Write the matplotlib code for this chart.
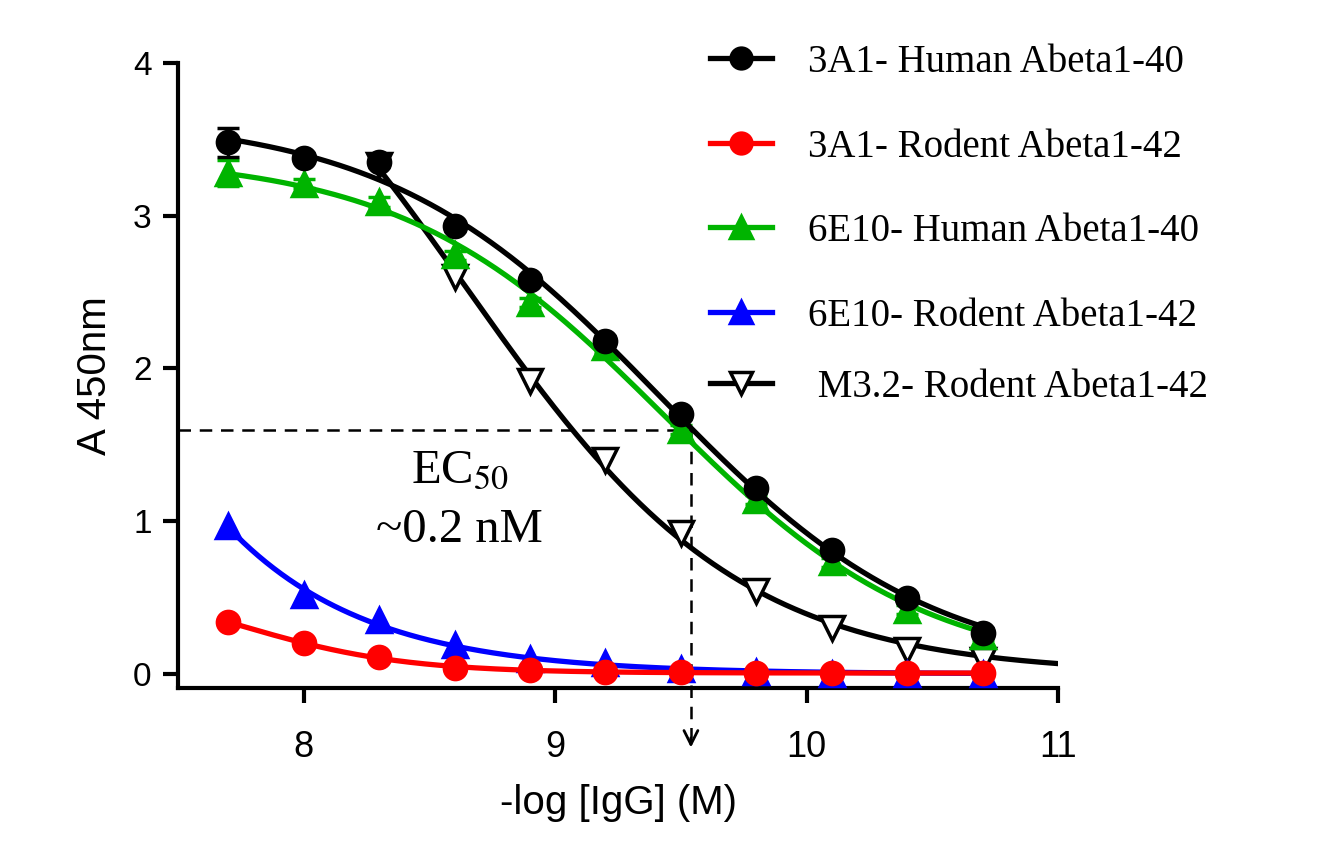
import numpy as np
import matplotlib
matplotlib.use('Agg')
import matplotlib.pyplot as plt
from matplotlib.lines import Line2D

plt.rcParams['mathtext.fontset'] = 'stix'
plt.rcParams['font.family'] = ['Liberation Sans', 'DejaVu Sans']

# -log[IgG] (M) for each dilution
log_igg = [7.7, 8.0, 8.3, 8.6, 8.9, 9.2, 9.5, 9.8, 10.1, 10.4, 10.7]
log_igg_m32 = [8.3, 8.6, 8.9, 9.2, 9.5, 9.8, 10.1, 10.4, 10.7]

# A450 readings
a450_3a1_human = [3.48, 3.38, 3.35, 2.93, 2.58, 2.18, 1.70, 1.22, 0.81, 0.50, 0.27]
a450_3a1_rodent = [0.34, 0.20, 0.11, 0.04, 0.026, 0.015, 0.013, 0.006, 0.005, 0.005, 0.005]
a450_6e10_human = [3.28, 3.21, 3.09, 2.74, 2.43, 2.14, 1.60, 1.14, 0.73, 0.42, 0.25]
a450_6e10_rodent = [0.97, 0.52, 0.35, 0.19, 0.10, 0.07, 0.03, 0.01, 0.0, 0.0, 0.0]
a450_m32_rodent = [3.33, 2.60, 1.92, 1.40, 0.92, 0.54, 0.30, 0.16, 0.09]

# SEM (mostly hidden behind the markers)
sem_3a1_human = [0.095, 0.03, 0.03, 0.03, 0.03, 0.03, 0.03, 0.03, 0.03, 0.03, 0.03]
sem_6e10_human = [0.085, 0.03, 0.03, 0.03, 0.03, 0.03, 0.03, 0.03, 0.03, 0.03, 0.03]

labels = ['3A1- Human Abeta1-40', '3A1- Rodent Abeta1-42', '6E10- Human Abeta1-40',
          '6E10- Rodent Abeta1-42', ' M3.2- Rodent Abeta1-42']
x_ticks = [8, 9, 10, 11]
y_ticks = [0, 1, 2, 3, 4]

# EC50 guide
ec50_level = 1.6
ec50_x = 9.54

W, H = 1319, 841
legend_rows_px = [58, 143, 227, 312, 383]


def fit_4pl(x, y):
    # grid search on logEC50 / hill, top and bottom by least squares (bottom >= 0)
    x = np.asarray(x, float)
    y = np.asarray(y, float)

    def search(c_grid, h_grid):
        C = c_grid[:, None, None]
        Hh = h_grid[None, :, None]
        s = 1.0 / (1.0 + 10.0 ** ((x[None, None, :] - C) * Hh))
        t = 1.0 - s
        a = (s * s).sum(-1); b = (s * t).sum(-1); c = (t * t).sum(-1)
        d1 = (s * y).sum(-1); d2 = (t * y).sum(-1)
        det = a * c - b * b
        det = np.where(np.abs(det) < 1e-12, np.nan, det)
        top = (c * d1 - b * d2) / det
        bot = (a * d2 - b * d1) / det
        neg = ~(bot >= 0)
        top = np.where(neg, d1 / a, top)
        bot = np.where(neg, 0.0, bot)
        sse = (((top[..., None] * s + bot[..., None] * t) - y) ** 2).sum(-1)
        sse = np.where(np.isfinite(sse), sse, np.inf)
        i, j = np.unravel_index(np.argmin(sse), sse.shape)
        return c_grid[i], h_grid[j], top[i, j], bot[i, j]

    c0, h0, _, _ = search(np.linspace(6.0, 12.0, 301), np.linspace(0.3, 3.0, 136))
    return search(np.linspace(c0 - 0.05, c0 + 0.05, 101),
                  np.linspace(max(0.2, h0 - 0.05), h0 + 0.05, 101))


def curve(params, xs):
    c, h, top, bot = params
    return bot + (top - bot) / (1.0 + 10.0 ** ((xs - c) * h))


fig = plt.figure(figsize=(W / 100, H / 100), dpi=100)
ax = fig.add_axes([178 / W, 1 - 688 / H, 880 / W, 625 / H])

series = [
    (log_igg, a450_3a1_human, sem_3a1_human, 'black', 'o', 'black', 10, (7.7, 10.7)),
    (log_igg, a450_3a1_rodent, None, '#ff0000', 'o', '#ff0000', 8, (7.7, 10.7)),
    (log_igg, a450_6e10_human, sem_6e10_human, '#00b400', '^', '#00b400', 9, (7.7, 10.7)),
    (log_igg, a450_6e10_rodent, None, '#0000ff', '^', '#0000ff', 7, (7.7, 10.7)),
    (log_igg_m32, a450_m32_rodent, None, 'black', 'v', 'white', 5, (8.3, 11.0)),
]

for k, (x, y, err, col, mk, fc, z, rng) in enumerate(series):
    p = fit_4pl(x, y)
    xs = np.linspace(rng[0], rng[1], 300)
    ax.plot(xs, curve(p, xs), color=col, lw=3.8, zorder=z)
    ms = 16 if mk == 'o' else 17
    ax.errorbar(x, y, yerr=err, fmt=mk, color=col, mfc=fc, mec=col, mew=2.5,
                ms=ms, ecolor=col, elinewidth=2.5, capsize=8, capthick=2.5,
                zorder=z + 0.5, clip_on=False)

    # legend row, drawn by hand so the rows sit where the original puts them
    ry = 1 - legend_rows_px[k] / H
    fig.add_artist(Line2D([710 / W, 772 / W], [ry, ry], color=col, lw=3.8))
    fig.add_artist(Line2D([741 / W], [ry], ls='none', marker=mk, ms=ms - 1,
                          mfc=fc, mec=col, mew=2.5))
    fig.text(808 / W, ry, labels[k], fontsize=28, family='Liberation Serif',
             ha='left', va='center_baseline')

# EC50 dashed guide
ax.plot([7.5, ec50_x], [ec50_level, ec50_level], color='black', lw=1.8,
        ls=(0, (5, 3.5)), zorder=3)
ax.plot([ec50_x, ec50_x], [ec50_level, -0.42], color='black', lw=1.8,
        ls=(0, (5, 3.5)), zorder=3, clip_on=False)
ax.annotate('', xy=(ec50_x, -0.5), xytext=(ec50_x, -0.40),
            arrowprops=dict(arrowstyle='->,head_length=1.0,head_width=0.5',
                            color='black', lw=2),
            annotation_clip=False)

ax.text(8.62, 1.33, 'EC$_{50}$', fontsize=35, family='Liberation Serif',
        ha='center', va='center')
ax.text(8.62, 0.94, '~0.2 nM', fontsize=35, family='Liberation Serif',
        ha='center', va='center')

ax.set_xlim(7.5, 11.0)
ax.set_ylim(-0.092, 4.0)
ax.set_xticks(x_ticks)
ax.set_yticks(y_ticks)
for s in ['top', 'right']:
    ax.spines[s].set_visible(False)
for s in ['left', 'bottom']:
    ax.spines[s].set_linewidth(3)
ax.tick_params(axis='both', direction='out', length=11, width=3)
ax.tick_params(axis='x', pad=19, labelsize=26)
ax.tick_params(axis='y', pad=8, labelsize=24)

ax.set_xlabel('-log [IgG] (M)', fontsize=29, labelpad=14)
ax.set_ylabel('A 450nm', fontsize=29, labelpad=14)

fig.savefig('out.png', dpi=100)
